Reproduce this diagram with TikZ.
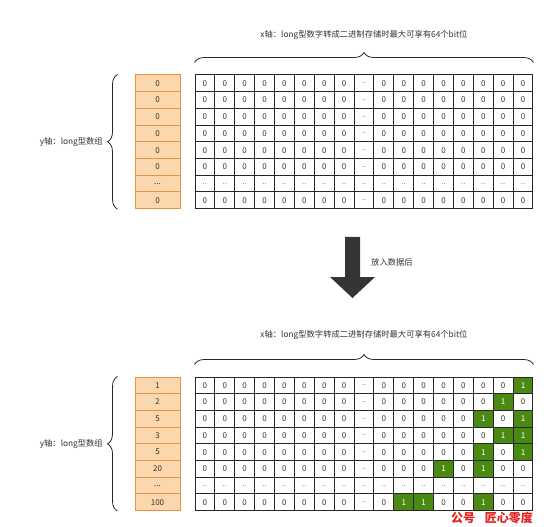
\documentclass[tikz,border=0pt]{standalone}
\usepackage{fontspec}
\newfontfamily\cjk{Noto Sans CJK SC}
\usetikzlibrary{decorations.pathreplacing}
\definecolor{cellline}{HTML}{262626}
\definecolor{arrayfill}{HTML}{FAD7AC}
\definecolor{arrayline}{HTML}{EC9340}
\definecolor{bitgreen}{HTML}{4A8A12}
\definecolor{labelgray}{HTML}{333333}
\definecolor{dotgray}{HTML}{888888}
\definecolor{arrowgray}{HTML}{353535}
\definecolor{markred}{HTML}{E3201B}
\newcommand\dotsmark{...}

\begin{document}
\begin{tikzpicture}[x=1pt,y=-1pt,
  cell/.style={draw=cellline,line width=1pt,minimum width=19.88pt,minimum height=16.7pt,
    inner sep=0pt,font=\cjk\fontsize{8}{9}\selectfont,text=labelgray},
  slot/.style={draw=arrayline,fill=arrayfill,line width=1pt,minimum width=45pt,minimum height=16.7pt,
    inner sep=0pt,font=\cjk\fontsize{8}{9}\selectfont,text=labelgray},
  b0/.style={node contents=0},
  b1/.style={fill=bitgreen,text=white,node contents=1},
  bd/.style={text=dotgray,node contents=..},
  axis/.style={decorate,decoration={brace,amplitude=10pt},line width=0.8pt,draw=cellline},
  caption/.style={font=\cjk\fontsize{8.3}{10}\selectfont,text=labelgray,inner sep=1pt}]
\useasboundingbox (0,0) rectangle (550,527);

% before
\foreach \n [count=\r] in {0,0,0,0,0,0,\dotsmark,0}
  \node (y-\r) at (157.5,{75+(\r-0.5)*16.7}) [slot] {\n};
\foreach \r in {1,...,8}{
  \ifnum\r=7 \def\bits{d,d,d,d,d,d,d,d,d,d,d,d,d,d,d,d,d}%
  \else\def\bits{0,0,0,0,0,0,0,0,d,0,0,0,0,0,0,0,0}\fi
  \foreach \v [count=\c] in \bits
    \node (t-\r-\c) at ({195+(\c-0.5)*19.88},{75+(\r-0.5)*16.7}) [cell,b\v];
}
\draw[axis] ([yshift=12pt]t-1-1.north west) -- ([yshift=12pt]t-1-17.north east);
\node[caption] (xlab) at (364,35) {x轴：long型数字转成二进制存储时最大可享有64个bit位};
\draw[axis] ([xshift=-17pt]y-8.south west) -- ([xshift=-17pt]y-1.north west);
\node[caption,anchor=east] (ylab) at (104,141.8) {y轴：long型数组};

% arrow
\fill[arrowgray] (345,237) -- (360,237) -- (360,277) -- (375,277) -- (352.5,298)
  -- (330,277) -- (345,277) -- cycle;
\node[caption,anchor=west] (step) at (370,262) {放入数据后};

% after
\foreach \n [count=\r] in {1,2,5,3,5,20,\dotsmark,100}
  \node (z-\r) at (157.5,{377+(\r-0.5)*16.7}) [slot] {\n};
\foreach \r/\bits in {
  1/{0,0,0,0,0,0,0,0,d,0,0,0,0,0,0,0,1},
  2/{0,0,0,0,0,0,0,0,d,0,0,0,0,0,0,1,0},
  3/{0,0,0,0,0,0,0,0,d,0,0,0,0,0,1,0,1},
  4/{0,0,0,0,0,0,0,0,d,0,0,0,0,0,0,1,1},
  5/{0,0,0,0,0,0,0,0,d,0,0,0,0,0,1,0,1},
  6/{0,0,0,0,0,0,0,0,d,0,0,0,1,0,1,0,0},
  7/{d,d,d,d,d,d,d,d,d,d,d,d,d,d,d,d,d},
  8/{0,0,0,0,0,0,0,0,d,0,1,1,0,0,1,0,0}}
  \foreach \v [count=\c] in \bits
    \node (b-\r-\c) at ({195+(\c-0.5)*19.88},{377+(\r-0.5)*16.7}) [cell,b\v];
\draw[axis] ([yshift=12pt]b-1-1.north west) -- ([yshift=12pt]b-1-17.north east);
\node[caption] (xlab2) at (364,335) {x轴：long型数字转成二进制存储时最大可享有64个bit位};
\draw[axis] ([xshift=-17pt]z-8.south west) -- ([xshift=-17pt]z-1.north west);
\node[caption,anchor=east] (ylab2) at (104,443.8) {y轴：long型数组};

\node[font=\cjk\bfseries\fontsize{12}{14}\selectfont,text=markred] (mark) at (492,518)
  {公号\hspace{0.8em}匠心零度};
\end{tikzpicture}
\end{document}
